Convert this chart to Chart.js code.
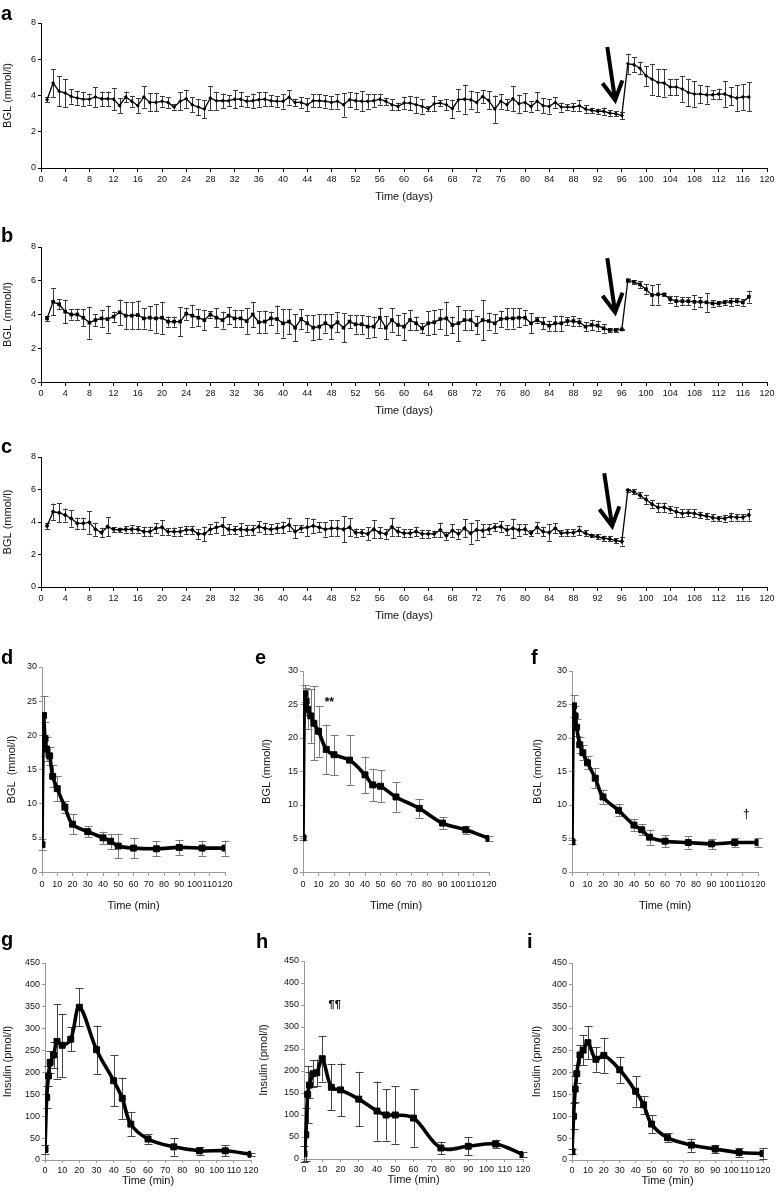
<!DOCTYPE html>
<html>
<head>
<meta charset="utf-8">
<script src="https://cdn.jsdelivr.net/npm/chart.js@4.4.1/dist/chart.umd.min.js"></script>
<style>
  body { margin: 0; background: #fff; width: 777px; height: 1195px; position: relative; overflow: hidden; font-family: "Liberation Sans", Arial, sans-serif; }
  canvas { position: absolute; }
  .lbl { position: absolute; font-weight: bold; font-size: 20px; line-height: 20px; color: #000; }
</style>
</head>
<body>
<canvas id="pa"></canvas><canvas id="pb"></canvas><canvas id="pc"></canvas>
<canvas id="pd"></canvas><canvas id="pe"></canvas><canvas id="pf"></canvas>
<canvas id="pg"></canvas><canvas id="ph"></canvas><canvas id="pi"></canvas>
<div class="lbl" style="left:1px;top:3px">a</div>
<div class="lbl" style="left:1px;top:225px">b</div>
<div class="lbl" style="left:1px;top:436px">c</div>
<div class="lbl" style="left:1px;top:647px">d</div>
<div class="lbl" style="left:255px;top:647px">e</div>
<div class="lbl" style="left:531px;top:647px">f</div>
<div class="lbl" style="left:1px;top:929px">g</div>
<div class="lbl" style="left:256px;top:931px">h</div>
<div class="lbl" style="left:527px;top:931px">i</div>
<script>
// ---- data: daily BGL (a, b, c) ----
const days = [1,2,3,4,5,6,7,8,9,10,11,12,13,14,15,16,17,18,19,20,21,22,23,24,25,26,27,28,29,30,
  31,32,33,34,35,36,37,38,39,40,41,42,43,44,45,46,47,48,49,50,51,52,53,54,55,56,57,58,59,60,
  61,62,63,64,65,66,67,68,69,70,71,72,73,74,75,76,77,78,79,80,81,82,83,84,85,86,87,88,89,90,
  91,92,93,94,95,96,97,98,99,100,101,102,103,104,105,106,107,108,109,110,111,112,113,114,115,116,117];
const dayTicks = [0,4,8,12,16,20,24,28,32,36,40,44,48,52,56,60,64,68,72,76,80,84,88,92,96,100,104,108,112,116,120];

const bglA = [3.77,4.69,4.23,4.14,3.95,3.86,3.8,3.8,3.92,3.82,
  3.82,3.8,3.44,3.92,3.68,3.44,3.92,3.62,3.62,3.68,
  3.62,3.36,3.68,3.82,3.49,3.36,3.25,3.86,3.71,3.71,
  3.71,3.8,3.8,3.68,3.71,3.77,3.8,3.71,3.68,3.68,
  3.9,3.62,3.62,3.49,3.71,3.71,3.68,3.62,3.68,3.49,
  3.77,3.71,3.68,3.68,3.71,3.8,3.68,3.49,3.4,3.58,
  3.58,3.49,3.4,3.27,3.55,3.58,3.49,3.27,3.77,3.8,
  3.77,3.62,3.95,3.73,3.25,3.68,3.49,3.82,3.55,3.62,
  3.4,3.68,3.44,3.4,3.62,3.36,3.36,3.36,3.44,3.25,
  3.18,3.13,3.13,3.03,3.0,2.89,5.75,5.7,5.51,5.09,
  4.9,4.72,4.69,4.47,4.47,4.36,4.17,4.08,4.08,4.04,
  4.04,4.08,4.08,3.95,3.86,3.92,3.92];
const errA = [0.15,0.77,0.83,0.77,0.4,0.4,0.4,0.3,0.55,0.4,
  0.4,0.6,0.4,0.3,0.3,0.4,0.6,0.5,0.5,0.3,
  0.3,0.15,0.5,0.5,0.4,0.45,0.5,0.65,0.5,0.4,
  0.3,0.5,0.4,0.3,0.4,0.4,0.4,0.3,0.3,0.4,
  0.4,0.2,0.3,0.35,0.35,0.35,0.35,0.35,0.4,0.65,
  0.4,0.45,0.55,0.4,0.35,0.3,0.2,0.3,0.2,0.35,
  0.4,0.45,0.4,0.15,0.4,0.15,0.3,0.5,0.6,0.8,
  0.5,0.55,0.35,0.5,0.75,0.4,0.3,0.7,0.5,0.5,
  0.3,0.5,0.4,0.4,0.3,0.25,0.15,0.2,0.3,0.2,
  0.15,0.15,0.2,0.15,0.15,0.2,0.55,0.4,0.35,0.55,
  0.85,0.75,0.75,0.45,0.45,0.7,0.75,0.7,0.5,0.5,
  0.25,0.3,0.7,0.5,0.7,0.7,0.8];

const bglB = [3.77,4.75,4.6,4.17,4.0,4.0,3.81,3.52,3.67,3.77,
  3.73,3.87,4.13,3.93,3.93,3.97,3.77,3.81,3.77,3.81,
  3.58,3.58,3.58,4.05,3.93,3.81,3.67,4.0,3.81,3.67,
  3.93,3.77,3.77,3.61,4.0,3.54,3.58,3.77,3.73,3.48,
  3.58,3.22,3.73,3.48,3.22,3.28,3.48,3.28,3.54,3.22,
  3.58,3.42,3.42,3.28,3.28,3.81,3.22,3.67,3.38,3.28,
  3.67,3.48,3.18,3.48,3.54,3.73,3.77,3.38,3.48,3.67,
  3.67,3.38,3.67,3.61,3.48,3.73,3.77,3.77,3.81,3.81,
  3.48,3.67,3.48,3.34,3.48,3.48,3.61,3.61,3.54,3.28,
  3.38,3.34,3.18,3.08,3.08,3.12,6.03,5.93,5.78,5.5,
  5.15,5.19,5.19,4.91,4.79,4.79,4.79,4.75,4.75,4.72,
  4.66,4.66,4.72,4.75,4.79,4.72,5.05];
const errB = [0.15,0.8,0.3,0.7,0.3,0.35,0.5,0.95,0.35,0.5,
  0.8,0.3,0.75,0.8,0.8,0.85,0.6,0.7,0.85,0.95,
  0.3,0.3,0.85,0.35,0.65,0.5,0.6,0.2,0.55,0.5,
  0.5,0.5,0.5,0.75,0.75,0.65,0.65,0.4,0.8,0.85,
  0.75,0.8,0.6,0.5,0.75,0.75,0.55,0.75,0.6,0.85,
  0.4,0.55,0.55,0.65,0.6,0.6,0.7,0.7,0.6,0.8,
  0.6,0.4,0.3,0.7,0.7,0.6,1.0,0.5,1.05,0.6,
  0.6,0.55,1.2,0.5,0.55,0.5,0.6,0.6,0.55,0.45,
  0.6,0.2,0.35,0.3,0.45,0.45,0.25,0.3,0.25,0.25,
  0.3,0.3,0.25,0.1,0.1,0.05,0.1,0.1,0.2,0.3,
  0.6,0.6,0.1,0.2,0.3,0.25,0.25,0.4,0.3,0.55,
  0.2,0.15,0.15,0.25,0.2,0.2,0.35];

const bglC = [3.76,4.63,4.57,4.43,4.22,3.92,3.92,3.98,3.55,3.35,
  3.71,3.55,3.51,3.55,3.55,3.55,3.41,3.41,3.61,3.67,
  3.41,3.41,3.41,3.51,3.51,3.27,3.27,3.55,3.67,3.76,
  3.55,3.51,3.55,3.51,3.51,3.71,3.61,3.55,3.61,3.67,
  3.82,3.41,3.61,3.67,3.76,3.67,3.55,3.61,3.61,3.55,
  3.67,3.35,3.35,3.27,3.55,3.35,3.27,3.7,3.41,3.31,
  3.31,3.41,3.27,3.27,3.27,3.51,3.16,3.47,3.27,3.61,
  3.31,3.51,3.47,3.55,3.67,3.71,3.51,3.61,3.51,3.55,
  3.31,3.67,3.41,3.35,3.61,3.31,3.35,3.35,3.47,3.31,
  3.16,3.1,3.0,2.96,2.86,2.8,5.96,5.86,5.65,5.39,
  5.1,4.9,4.9,4.78,4.63,4.53,4.57,4.53,4.43,4.37,
  4.27,4.22,4.22,4.33,4.29,4.29,4.43];
const errC = [0.2,0.5,0.6,0.4,0.5,0.35,0.35,0.7,0.4,0.3,
  0.6,0.15,0.15,0.2,0.25,0.2,0.3,0.3,0.3,0.45,
  0.2,0.25,0.3,0.25,0.25,0.3,0.45,0.3,0.35,0.55,
  0.3,0.25,0.4,0.3,0.3,0.35,0.35,0.3,0.3,0.35,
  0.4,0.4,0.2,0.55,0.45,0.3,0.45,0.5,0.5,0.8,
  0.55,0.25,0.2,0.4,0.55,0.35,0.3,0.55,0.3,0.25,
  0.25,0.3,0.25,0.25,0.2,0.45,0.25,0.4,0.3,0.55,
  0.65,0.6,0.4,0.3,0.25,0.35,0.3,0.6,0.35,0.3,
  0.2,0.35,0.3,0.5,0.3,0.2,0.2,0.2,0.3,0.2,
  0.1,0.15,0.15,0.15,0.15,0.25,0.1,0.15,0.2,0.3,
  0.25,0.3,0.3,0.2,0.3,0.25,0.2,0.25,0.2,0.2,
  0.2,0.15,0.2,0.25,0.2,0.2,0.35];

// ---- data: tolerance tests (d-i) ----
const minutes = [0,1,2,3,5,7,10,15,20,30,40,45,50,60,75,90,105,120];
const bglD = [4,22.9,19.5,18,17,14,12.2,9.5,7,5.9,5,4.5,3.8,3.5,3.4,3.6,3.5,3.5];
const errD = [0.8,2.8,2.5,1.8,1.3,1.6,1.8,0.9,1.5,0.8,0.9,1.1,1.8,1.5,1.1,1.1,1.1,1.1];
const bglE = [5.1,26.6,25.5,24.3,23.3,22.2,21,18.3,17.5,16.7,14.5,13,12.8,11.2,9.5,7.3,6.3,5];
const errE = [0.3,1.3,2,3,4,5.5,3.8,3.7,3,3.7,2.7,2.4,2.4,2.2,1.4,0.9,0.6,0.4];
const bglF = [4.5,24.8,23.3,21.6,19,17.8,16.3,14,11.2,9.2,7,6.3,5.2,4.6,4.4,4.2,4.4,4.4];
const errF = [0.3,1.6,1.5,1.3,1.2,1.1,1,1.5,1.1,0.9,0.9,0.8,1.1,0.9,0.9,0.8,0.7,0.7];
const insG = [24,143,192,223,240,271,262,276,349,252,181,141,82,48,30,21,21,13];
const errG = [10,25,22,25,30,85,72,27,44,55,58,47,28,11,20,9,13,4];
const insH = [12,55,147,168,194,196,228,163,157,136,109,100,100,93,25,29,34,10];
const errH = [18,60,65,30,30,30,52,52,60,62,67,58,65,65,14,20,10,5];
const insI = [19,100,162,197,240,251,268,230,239,206,157,126,82,51,34,25,17,15];
const errI = [5,30,30,20,22,35,38,28,40,30,35,20,20,10,15,10,10,12];

const FONT = '"Liberation Sans", Arial, sans-serif';

// error bars, arrows and text marks drawn through the chart's scales
const extras = {
  id: 'extras',
  beforeDatasetsDraw(chart, args, o) {
    if (!o.err) return;
    const { ctx, scales: { x, y } } = chart;
    const pts = chart.data.datasets[0].data;
    ctx.save();
    ctx.strokeStyle = o.color;
    ctx.lineWidth = 1;
    pts.forEach((p, i) => {
      const px = Math.round(x.getPixelForValue(p.x)) + 0.5;
      const y1 = y.getPixelForValue(p.y + o.err[i]);
      const y2 = y.getPixelForValue(p.y - o.err[i]);
      ctx.beginPath();
      ctx.moveTo(px, y1); ctx.lineTo(px, y2);
      ctx.moveTo(px - o.cap, Math.round(y1) + 0.5); ctx.lineTo(px + o.cap, Math.round(y1) + 0.5);
      ctx.moveTo(px - o.cap, Math.round(y2) + 0.5); ctx.lineTo(px + o.cap, Math.round(y2) + 0.5);
      ctx.stroke();
    });
    ctx.restore();
  },
  afterDraw(chart, args, o) {
    const { ctx, scales: { x, y } } = chart;
    ctx.save();
    if (o.arrow) {
      const [fx, fy] = o.arrow.from, [tx, ty] = o.arrow.to;
      const x1 = x.getPixelForValue(fx), y1 = y.getPixelForValue(fy);
      const x2 = x.getPixelForValue(tx), y2 = y.getPixelForValue(ty);
      const ang = Math.atan2(y2 - y1, x2 - x1);
      ctx.strokeStyle = '#000';
      ctx.lineWidth = 4;
      ctx.lineCap = 'butt';
      ctx.lineJoin = 'miter';
      ctx.beginPath();
      ctx.moveTo(x1, y1); ctx.lineTo(x2, y2);
      ctx.stroke();
      ctx.beginPath();
      ctx.moveTo(x2 - 21 * Math.cos(ang - 0.5), y2 - 21 * Math.sin(ang - 0.5));
      ctx.lineTo(x2, y2);
      ctx.lineTo(x2 - 21 * Math.cos(ang + 0.5), y2 - 21 * Math.sin(ang + 0.5));
      ctx.stroke();
    }
    if (o.notes) {
      o.notes.forEach(n => {
        ctx.fillStyle = '#000';
        ctx.font = n.font;
        ctx.textAlign = 'center';
        ctx.textBaseline = 'middle';
        ctx.fillText(n.text, x.getPixelForValue(n.x), y.getPixelForValue(n.y));
      });
    }
    ctx.restore();
  }
};

function panel(id, box, s) {
  const cv = document.getElementById(id);
  const padT = 10, padR = s.padR || 12;
  const w = box.axW + (box.x1 - box.x0) + padR;
  const h = padT + (box.y1 - box.y0) + box.axH;
  cv.width = w; cv.height = h;
  cv.style.left = (box.x0 - box.axW) + 'px';
  cv.style.top = (box.y0 - padT) + 'px';
  const pts = s.xs.map((v, i) => ({ x: v, y: s.ys[i] }));
  new Chart(cv, {
    type: 'line',
    data: { datasets: [{
      data: pts,
      borderColor: '#000',
      borderWidth: s.lw,
      pointStyle: s.pointStyle,
      pointRadius: s.pr,
      pointBackgroundColor: '#000',
      pointBorderColor: '#000',
      pointBorderWidth: s.pbw,
      tension: s.tension,
      fill: false
    }] },
    options: {
      responsive: false,
      animation: false,
      events: [],
      layout: { padding: { top: padT, right: padR, left: 0, bottom: 0 } },
      plugins: {
        legend: { display: false },
        tooltip: { enabled: false },
        extras: { err: s.err, color: s.errColor, cap: s.cap, arrow: s.arrow, notes: s.notes }
      },
      scales: {
        x: {
          type: 'linear', min: 0, max: s.xMax,
          afterFit: sc => { sc.height = box.axH; },
          afterBuildTicks: sc => { sc.ticks = s.xTicks.map(v => ({ value: v })); },
          ticks: { autoSkip: false, maxRotation: 0, minRotation: 0, padding: s.xtp, color: '#111',
                   font: { family: FONT, size: s.xFont } },
          grid: { drawOnChartArea: false, tickLength: s.tl, color: s.axisColor },
          border: { color: s.axisColor, width: 1 },
          title: { display: true, text: s.xTitle, color: '#111', font: { family: FONT, size: 11 },
                   padding: { top: 0, bottom: 2 } }
        },
        y: {
          type: 'linear', min: 0, max: s.yMax,
          afterFit: sc => { sc.width = box.axW; },
          ticks: { stepSize: s.yStep, padding: 2, color: '#111', font: { family: FONT, size: 9 } },
          grid: { drawOnChartArea: false, tickLength: 3, color: s.axisColor },
          border: { color: s.axisColor, width: 1 },
          title: { display: true, text: s.yTitle, color: '#111', font: { family: FONT, size: 11 },
                   padding: { top: box.tp, bottom: 0 } }
        }
      }
    },
    plugins: [extras]
  });
}

const topStyle = {
  xs: days, xMax: 120, xTicks: dayTicks, xFont: 9, xtp: 2, tl: 4,
  yMax: 8, yStep: 2, lw: 1.3, tension: 0, pbw: 0,
  errColor: '#3a3a3a', cap: 2.5, axisColor: '#000',
  xTitle: 'Time (days)', yTitle: 'BGL (mmol/l)', padR: 10
};
panel('pa', { x0: 41, y0: 23, x1: 767, y1: 168, axW: 41, axH: 38, tp: 1 },
  Object.assign({}, topStyle, { ys: bglA, err: errA, pointStyle: 'rectRot', pr: 2,
    arrow: { from: [93.6, 6.68], to: [94.9, 3.75] } }));
panel('pb', { x0: 41, y0: 247, x1: 767, y1: 382, axW: 41, axH: 38, tp: 1 },
  Object.assign({}, topStyle, { ys: bglB, err: errB, pointStyle: 'rect', pr: 2.6,
    arrow: { from: [93.6, 7.34], to: [94.9, 4.12] } }));
panel('pc', { x0: 41, y0: 457, x1: 767, y1: 587, axW: 41, axH: 38, tp: 1 },
  Object.assign({}, topStyle, { ys: bglC, err: errC, pointStyle: 'rectRot', pr: 2.4,
    arrow: { from: [93.1, 7.0], to: [94.4, 3.75] } }));

const minTicks = [0,10,20,30,40,50,60,70,80,90,100,110,120];
const lowStyle = {
  xs: minutes, xMax: 120, xTicks: minTicks, xFont: 9, xtp: 3, tl: 4,
  lw: 3.6, tension: 0.35, pointStyle: 'rect', pr: 4.2, pbw: 1,
  cap: 4, axisColor: '#9a9a9a', xTitle: 'Time (min)'
};
const bglLow = Object.assign({}, lowStyle, { yMax: 30, yStep: 5, errColor: '#7a7a7a' });
const insLow = Object.assign({}, lowStyle, { yMax: 450, yStep: 50, errColor: '#444', yTitle: 'Insulin (pmol/l)', tl: 3, xtp: 2 });

panel('pd', { x0: 42, y0: 667, x1: 225, y1: 872, axW: 42, axH: 43, tp: 5 },
  Object.assign({}, bglLow, { ys: bglD, err: errD, yTitle: 'BGL  (mmol/l)' }));
panel('pe', { x0: 303, y0: 671, x1: 489, y1: 872, axW: 48, axH: 43, tp: 5 },
  Object.assign({}, bglLow, { ys: bglE, err: errE, yTitle: 'BGL (mmol/l)',
    notes: [{ x: 17, y: 25.3, text: '**', font: 'bold 12px ' + FONT }] }));
panel('pf', { x0: 572, y0: 671, x1: 758, y1: 872, axW: 42, axH: 43, tp: 1.5 },
  Object.assign({}, bglLow, { ys: bglF, err: errF, yTitle: 'BGL (mmol/l)',
    notes: [{ x: 112.5, y: 8.5, text: '†', font: '12px ' + FONT }] }));
panel('pg', { x0: 45, y0: 963, x1: 251, y1: 1160, axW: 45, axH: 30, tp: 1.5 },
  Object.assign({}, insLow, { ys: insG, err: errG }));
panel('ph', { x0: 304, y0: 961, x1: 523, y1: 1159, axW: 49, axH: 30, tp: 2.5 },
  Object.assign({}, insLow, { ys: insH, err: errH,
    notes: [{ x: 16.8, y: 350, text: '¶¶', font: 'bold 11px ' + FONT }] }));
panel('pi', { x0: 572, y0: 963, x1: 763, y1: 1160, axW: 42, axH: 30, tp: 0 },
  Object.assign({}, insLow, { ys: insI, err: errI }));
</script>
</body>
</html>
